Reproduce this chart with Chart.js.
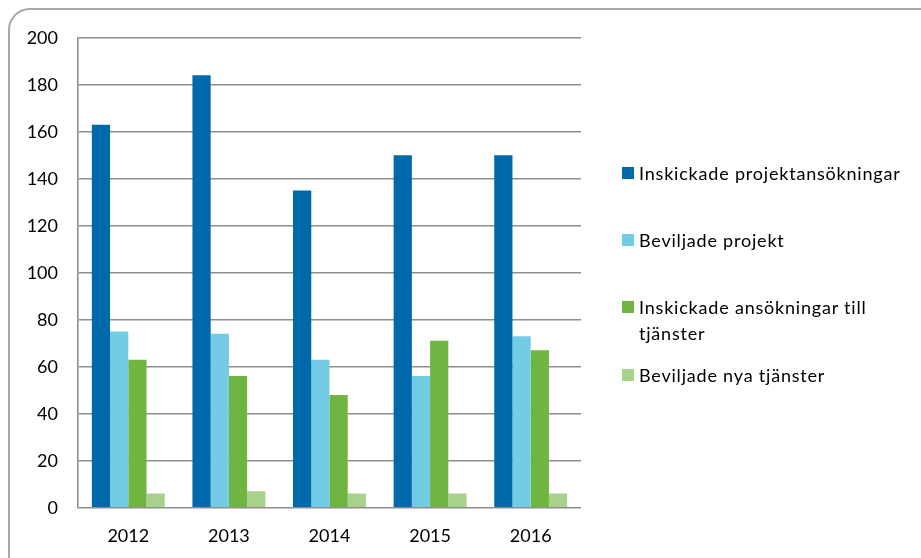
<!DOCTYPE html>
<html>
<head>
<meta charset="utf-8">
<script src="https://cdn.jsdelivr.net/npm/chart.js@4"></script>
<style>
  html, body { margin: 0; padding: 0; background: #fff; }
  .wrap { position: relative; width: 921px; height: 558px; overflow: hidden; font-family: Lato, sans-serif; }
  .card { position: absolute; left: 8px; top: 8px; width: 940px; height: 570px; border: 2px solid #a8a8a8; border-radius: 22px; box-sizing: border-box; }
  canvas { position: absolute; left: 0; top: 0; }
  .legend-item { position: absolute; left: 622px; width: 290px; font-size: 18px; line-height: 26px; letter-spacing: 0.8px; color: #000; }
  .legend-box { position: absolute; left: 0; top: 7px; width: 12px; height: 12px; }
  .legend-text { margin-left: 17px; }
</style>
</head>
<body>
<div class="wrap">
  <div class="card"></div>
  <canvas id="chart" width="921" height="558"></canvas>
  <div id="legend"></div>
</div>
<script>
const years = ['2012', '2013', '2014', '2015', '2016'];
const seriesNames = [
  'Inskickade projektansökningar',
  'Beviljade projekt',
  'Inskickade ansökningar till tjänster',
  'Beviljade nya tjänster'
];
const inskickadeProjekt = [163, 184, 135, 150, 150];
const beviljadeProjekt  = [75, 74, 63, 56, 73];
const inskickadeTjanst  = [63, 56, 48, 71, 67];
const beviljadeTjanst   = [6, 7, 6, 6, 6];
const yTicks = [0, 20, 40, 60, 80, 100, 120, 140, 160, 180, 200];

const colors = ['#0069AA', '#72CDE4', '#70B441', '#A9D18E'];
const values = [inskickadeProjekt, beviljadeProjekt, inskickadeTjanst, beviljadeTjanst];

// legend rows (Excel spreads them out, third one wraps)
const legendTops = [160, 227, 294, 362];
const legend = document.getElementById('legend');
seriesNames.forEach((name, i) => {
  const item = document.createElement('div');
  item.className = 'legend-item';
  item.style.top = legendTops[i] + 'px';
  item.innerHTML = `<span class="legend-box" style="background:${colors[i]}"></span><div class="legend-text">${name}</div>`;
  legend.appendChild(item);
});

const gridColor = '#8e8e8e';

new Chart(document.getElementById('chart'), {
  type: 'bar',
  data: {
    labels: years,
    datasets: seriesNames.map((name, i) => ({
      label: name,
      data: values[i],
      backgroundColor: colors[i],
      borderWidth: 0,
      barPercentage: 1,
      categoryPercentage: 0.725,
    }))
  },
  options: {
    responsive: false,
    animation: false,
    layout: { padding: { left: 0, right: 340, top: 37.7, bottom: 0 } },
    plugins: { legend: { display: false }, tooltip: { enabled: false } },
    scales: {
      x: {
        grid: { display: false },
        border: { display: false },
        ticks: { color: '#000', font: { family: 'Lato', size: 18 }, padding: 10 },
        afterFit: s => { s.height = 50.3; }
      },
      y: {
        min: 0, max: 200,
        afterBuildTicks: s => { s.ticks = yTicks.map(v => ({ value: v })); },
        grid: { color: gridColor, lineWidth: 1.6, drawTicks: false },
        border: { display: true, color: gridColor, width: 1.6 },
        ticks: { color: '#000', font: { family: 'Lato', size: 18 }, padding: 20 },
        afterFit: s => { s.width = 78; }
      }
    }
  }
});
</script>
</body>
</html>
